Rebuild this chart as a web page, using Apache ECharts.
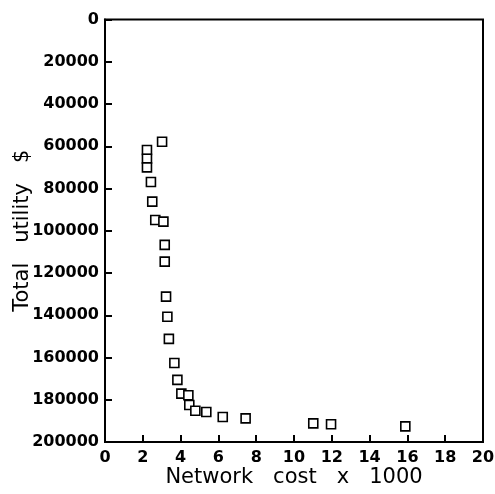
<!DOCTYPE html>
<html>
<head>
<meta charset="utf-8">
<script src="https://cdn.jsdelivr.net/npm/echarts@6/dist/echarts.min.js"></script>
<style>html,body{margin:0;padding:0;background:#fff}#c{width:495px;height:494px}</style>
</head>
<body>
<div id="c"></div>
<script>
// Network cost (x 1000)
const networkCost = [3.02, 2.22, 2.22, 2.22, 2.43, 2.50, 2.66, 3.09, 3.16, 3.16, 3.23, 3.30, 3.38, 3.67, 3.83, 4.04, 4.41, 4.46, 4.78, 5.36, 6.23, 7.44, 11.02, 11.96, 15.89];
// Total utility $
const totalUtility = [57900, 61800, 65900, 70000, 76900, 86200, 94900, 95700, 106700, 114600, 131200, 140700, 151200, 162600, 170600, 177100, 177900, 182500, 185200, 185800, 188200, 188800, 191200, 191600, 192600];
const xTicks = [0, 2, 4, 6, 8, 10, 12, 14, 16, 18, 20];
const yTicks = [0, 20000, 40000, 60000, 80000, 100000, 120000, 140000, 160000, 180000, 200000];

const points = networkCost.map((x, i) => [x, totalUtility[i]]);
const chart = echarts.init(document.getElementById('c'), null, {renderer: 'canvas'});
chart.setOption({
  animation: false,
  backgroundColor: '#fff',
  grid: {left: 105, right: 12, top: 19.5, bottom: 52, outerBoundsMode: 'none', containLabel: false,
         show: true, borderColor: '#000', borderWidth: 2, backgroundColor: 'transparent'},
  xAxis: {
    type: 'value', position: 'bottom', min: xTicks[0], max: xTicks[xTicks.length - 1], interval: 2,
    name: 'Network   cost   x   1000', nameLocation: 'middle', nameGap: 25, nameMoveOverlap: false,
    nameTextStyle: {fontFamily: 'DejaVu Sans', fontSize: 21, color: '#000'},
    axisLine: {show: true, onZero: false, lineStyle: {color: '#000', width: 2}},
    axisTick: {show: true, inside: true, length: 7, lineStyle: {color: '#000', width: 2}},
    axisLabel: {fontFamily: 'DejaVu Sans', fontWeight: 'bold', fontSize: 16, color: '#000', margin: 8,
                formatter: v => String(v)},
    splitLine: {show: false}
  },
  yAxis: {
    type: 'value', position: 'left', inverse: true, min: yTicks[0], max: yTicks[yTicks.length - 1], interval: 20000,
    name: 'Total   utility   $', nameLocation: 'middle', nameGap: 72, nameMoveOverlap: false,
    nameTextStyle: {fontFamily: 'DejaVu Sans', fontSize: 21, color: '#000'},
    axisLine: {show: true, onZero: false, lineStyle: {color: '#000', width: 2}},
    axisTick: {show: true, inside: true, length: 7, lineStyle: {color: '#000', width: 2}},
    axisLabel: {fontFamily: 'DejaVu Sans', fontWeight: 'bold', fontSize: 16, color: '#000', margin: 6, padding: [0, 0, 5, 0],
                formatter: v => String(v)},
    splitLine: {show: false}
  },
  series: [{
    type: 'scatter',
    data: points,
    symbol: 'rect',
    symbolSize: 9,
    itemStyle: {color: '#fff', borderColor: '#000', borderWidth: 1.6, opacity: 1}
  }]
});
</script>
</body>
</html>
